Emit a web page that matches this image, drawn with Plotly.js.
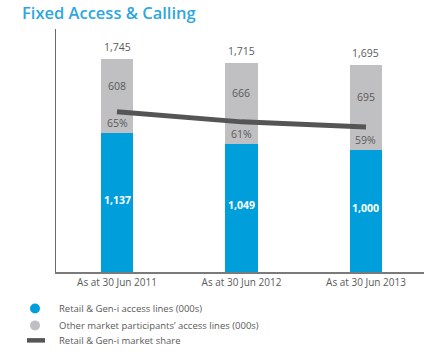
<!DOCTYPE html>
<html>
<head>
<meta charset="utf-8">
<script src="https://cdn.plot.ly/plotly-3.0.1.min.js"></script>
<style>
  html, body { margin: 0; padding: 0; background: #ffffff; }
  #chart { width: 428px; height: 354px; }
</style>
</head>
<body>
<div id="chart"></div>
<script>
// ---- Data ----
const categories = ["As at 30 Jun 2011", "As at 30 Jun 2012", "As at 30 Jun 2013"];
const retailLines = [1137, 1049, 1000];          // Retail & Gen-i access lines (000s)
const otherLines = [608, 666, 695];              // Other market participants' access lines (000s)
const totalLines = [1745, 1715, 1695];
const marketShare = [65, 61, 59];                // Retail & Gen-i market share (%)
const legendLabels = [
  "Retail & Gen-i access lines (000s)",
  "Other market participants\u2019 access lines (000s)",
  "Retail & Gen-i market share"
];

const BLUE = "#009fdc";
const GREY = "#c0c0c2";
const DARK = "#555555";
const TXT = "#5a5a5a";
const FONT = "Open Sans, Noto Sans, sans-serif";

const W = 428, H = 354;
const M = { l: 56, r: 4, t: 29, b: 81.5 };
const PW = W - M.l - M.r, PH = H - M.t - M.b;
const px = (x) => (x - M.l) / PW;
const py = (y) => (H - M.b - y) / PH;

const xs = categories.map((c, i) => i);

const traces = [
  {
    type: "bar", x: xs, y: retailLines, marker: { color: BLUE },
    width: 0.26, hoverinfo: "skip", showlegend: false
  },
  {
    type: "bar", x: xs, y: otherLines, marker: { color: GREY },
    width: 0.26, hoverinfo: "skip", showlegend: false
  },
  {
    type: "scatter", mode: "lines", x: xs, y: marketShare, yaxis: "y2",
    line: { color: DARK, width: 5 }, hoverinfo: "skip", showlegend: false
  }
];

const annotations = [];
xs.forEach((x, i) => {
  annotations.push({ x: x, y: totalLines[i], xref: "x", yref: "y", text: totalLines[i].toLocaleString("en-US"),
    showarrow: false, yanchor: "bottom", yshift: 3, font: { family: FONT, size: 10.5, color: TXT } });
  annotations.push({ x: x, y: retailLines[i] + otherLines[i] / 2, xref: "x", yref: "y", text: String(otherLines[i]),
    showarrow: false, yshift: 10, font: { family: FONT, size: 10.5, color: TXT } });
  annotations.push({ x: x, y: retailLines[i], xref: "x", yref: "y", text: marketShare[i] + "%",
    showarrow: false, yanchor: "bottom", yshift: 1, font: { family: FONT, size: 10.5, color: TXT } });
  annotations.push({ x: x, y: retailLines[i] / 2, xref: "x", yref: "y", text: "<b>" + retailLines[i].toLocaleString("en-US") + "</b>",
    showarrow: false, yshift: 3, font: { family: FONT, size: 10.5, color: "#ffffff" } });
});

// Legend (drawn manually)
const legY = [309, 326, 341];
legendLabels.forEach((t, i) => {
  annotations.push({ x: px(57), y: py(legY[i]), xref: "paper", yref: "paper", text: t,
    showarrow: false, xanchor: "left", yanchor: "middle", font: { family: FONT, size: 9.5, color: TXT } });
});
annotations.push({ x: px(20), y: py(12), xref: "paper", yref: "paper", text: "Fixed Access &amp; Calling",
  showarrow: false, xanchor: "left", yanchor: "middle", font: { family: FONT, size: 16.5, color: "#2ea6df", weight: 600 } });

const shapes = [
  { type: "circle", xref: "paper", yref: "paper", x0: px(30), x1: px(40), y0: py(314), y1: py(304),
    fillcolor: BLUE, line: { width: 0 } },
  { type: "circle", xref: "paper", yref: "paper", x0: px(30), x1: px(40), y0: py(331), y1: py(321),
    fillcolor: GREY, line: { width: 0 } },
  { type: "line", xref: "paper", yref: "paper", x0: px(27), x1: px(45), y0: py(341), y1: py(341),
    line: { color: DARK, width: 4.5 } }
];

const layout = {
  width: W, height: H,
  margin: M,
  paper_bgcolor: "#ffffff", plot_bgcolor: "#ffffff",
  barmode: "stack",
  showlegend: false,
  xaxis: {
    range: [-0.49, 2.466], tickmode: "array", tickvals: xs, ticktext: categories,
    showgrid: false, zeroline: false, showline: true, linecolor: "#7a7a7a", linewidth: 1.5,
    ticks: "", tickfont: { family: FONT, size: 10, color: TXT }, fixedrange: true
  },
  yaxis: {
    range: [0, 1990], showgrid: false, zeroline: false, showline: true, linecolor: "#6a6a6a", linewidth: 1.5,
    showticklabels: false, ticks: "", fixedrange: true
  },
  yaxis2: {
    overlaying: "y", side: "right", range: [2, 97.5], showgrid: false, zeroline: false,
    showline: false, showticklabels: false, ticks: "", fixedrange: true
  },
  annotations: annotations,
  shapes: shapes
};

Plotly.newPlot("chart", traces, layout, { displayModeBar: false, staticPlot: true });
</script>
</body>
</html>
